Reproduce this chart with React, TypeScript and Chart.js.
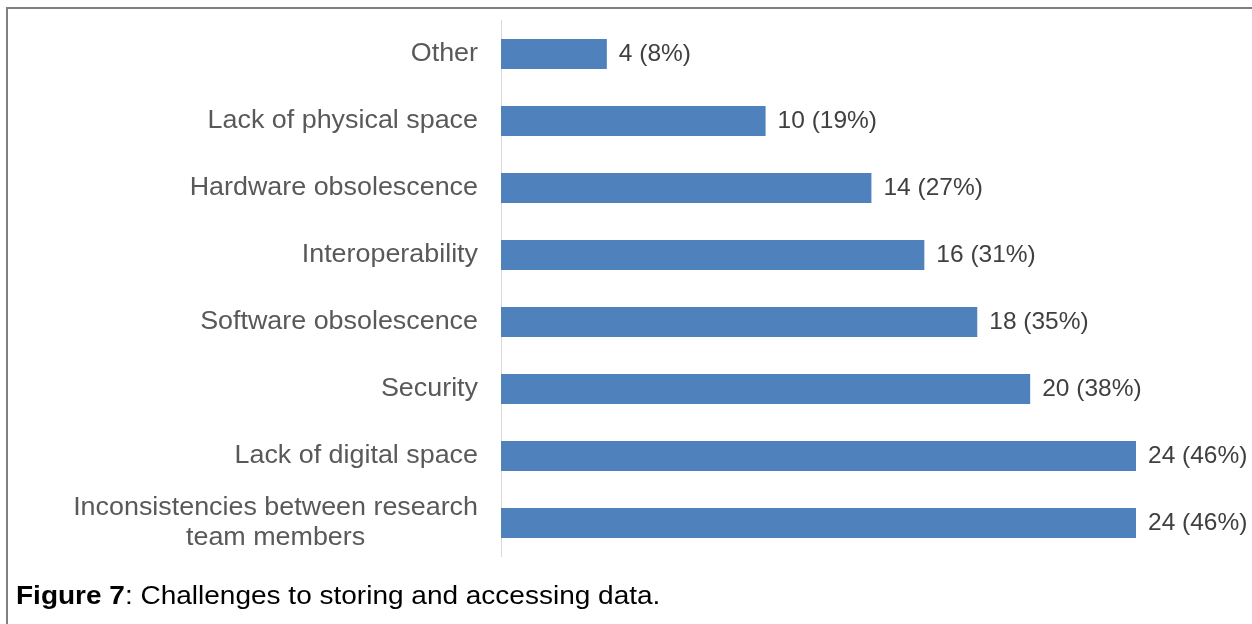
import React, { useEffect, useRef } from "react";
import { Chart, registerables } from "chart.js";

Chart.register(...registerables);

const categories: (string | string[])[] = [
  "Other",
  "Lack of physical space",
  "Hardware obsolescence",
  "Interoperability",
  "Software obsolescence",
  "Security",
  "Lack of digital space",
  ["Inconsistencies between research", "team members"],
];
const counts = [4, 10, 14, 16, 18, 20, 24, 24];
const percents = [8, 19, 27, 31, 35, 38, 46, 46];
const xMax = 24.2;

const FONT = '"Liberation Sans", Arial, sans-serif';

export default function App() {
  const ref = useRef<HTMLCanvasElement | null>(null);

  useEffect(() => {
    if (!ref.current) return;

    const categoryLabels = {
      id: "categoryLabels",
      afterDraw(chart: any) {
        const ctx = chart.ctx;
        const yScale = chart.scales.y;
        const rightX = chart.chartArea.left - 23;
        const sx = 1.075;
        ctx.save();
        ctx.font = `25px ${FONT}`;
        ctx.fillStyle = "#595959";
        ctx.textBaseline = "middle";
        ctx.textAlign = "center";
        categories.forEach((lab, i) => {
          const cy = yScale.getPixelForValue(i);
          const lines = Array.isArray(lab) ? lab : [lab];
          const lh = 30.5;
          const widths = lines.map((l) => ctx.measureText(l).width * sx);
          const block = Math.max(...widths);
          const center = rightX - block / 2;
          lines.forEach((l, j) => {
            const y = cy + (j - (lines.length - 1) / 2) * lh;
            ctx.save();
            ctx.translate(center, y);
            ctx.scale(sx, 1);
            ctx.fillText(l, 0, 0);
            ctx.restore();
          });
        });
        ctx.restore();
      },
    };

    const valueLabels = {
      id: "valueLabels",
      afterDatasetsDraw(chart: any) {
        const ctx = chart.ctx;
        const meta = chart.getDatasetMeta(0);
        ctx.save();
        ctx.font = `24.5px ${FONT}`;
        ctx.fillStyle = "#404040";
        ctx.textAlign = "left";
        ctx.textBaseline = "middle";
        meta.data.forEach((el: any, i: number) => {
          ctx.fillText(`${counts[i]} (${percents[i]}%)`, el.x + 12, el.y);
        });
        ctx.restore();
      },
    };

    const chart = new Chart(ref.current, {
      type: "bar",
      data: {
        labels: categories.map((c) => (Array.isArray(c) ? c.join(" ") : c)),
        datasets: [
          {
            data: counts,
            backgroundColor: "#4f81bd",
            borderWidth: 0,
            categoryPercentage: 1,
            barPercentage: 0.45,
          },
        ],
      },
      options: {
        indexAxis: "y",
        responsive: false,
        animation: false,
        devicePixelRatio: 1,
        layout: { padding: { left: 0, top: 20.5, right: 110.7, bottom: 67.5 } },
        plugins: {
          legend: { display: false },
          title: { display: false },
          tooltip: { enabled: false },
        },
        scales: {
          x: { display: false, min: 0, max: xMax },
          y: {
            display: true,
            grid: { display: false },
            border: { display: true, color: "#d9d9d9", width: 1 },
            ticks: { display: false },
            afterFit: (s: any) => {
              s.width = 501;
            },
          },
        },
      },
      plugins: [categoryLabels, valueLabels],
    });
    return () => chart.destroy();
  }, []);

  return (
    <div
      style={{
        position: "fixed",
        left: 0,
        top: 0,
        width: 1252,
        height: 624,
        background: "#fff",
        overflow: "hidden",
      }}
    >
      <div
        style={{
          position: "absolute",
          left: 6,
          top: 7,
          width: 1246,
          height: 617,
          borderTop: "2px solid #808080",
          borderLeft: "2px solid #808080",
          boxSizing: "border-box",
        }}
      />
      <canvas
        ref={ref}
        width={1252}
        height={624}
        style={{ position: "absolute", left: 0, top: 0, width: 1252, height: 624 }}
      />
      <div
        style={{
          position: "absolute",
          left: 16,
          top: 583,
          fontFamily: FONT,
          fontSize: 25,
          lineHeight: "25px",
          color: "#000",
          whiteSpace: "nowrap",
          transform: "scaleX(1.12)",
          transformOrigin: "left top",
        }}
      >
        <b>Figure 7</b>: Challenges to storing and accessing data.
      </div>
    </div>
  );
}
